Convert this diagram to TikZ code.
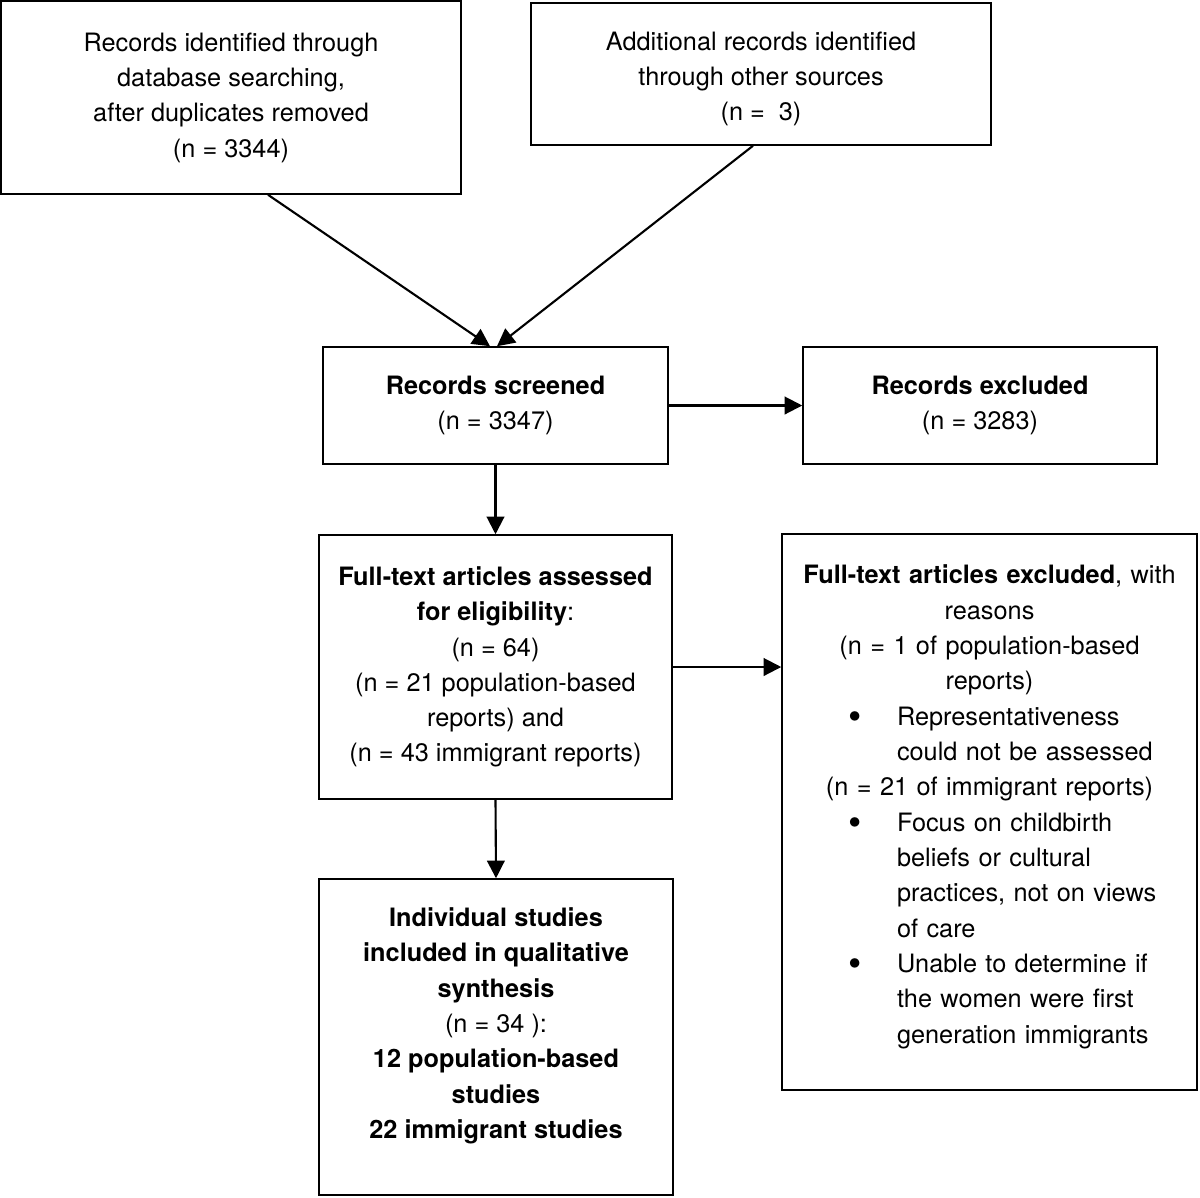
\documentclass[tikz,border=0pt]{standalone}
\usepackage{fontspec}
\setmainfont{TeX Gyre Heros}
\usetikzlibrary{arrows.meta}

\newcommand{\bigdot}{\raisebox{-2.5pt}{\scalebox{1.5}{\textbullet}}}
\newcommand{\bitem}[1]{\makebox[7.8cm][l]{\hspace*{1.08cm}\makebox[0.97cm][l]{\bigdot}#1}}
\newcommand{\bcont}[1]{\makebox[7.8cm][l]{\hspace*{2.05cm}#1}}

\begin{document}
\begin{tikzpicture}[x=0.02cm, y=-0.02cm,
  font=\fontsize{14.4}{20.1}\selectfont,
  box/.style={draw, line width=0.9pt, align=center, inner sep=0pt},
  flow/.style={-{Triangle[length=10pt,width=10pt]}, line width=1.2pt}]
  \useasboundingbox (0,0) rectangle (1200,1197);

  \node[box, minimum width=9.2cm, minimum height=3.86cm] (ident) at (231,97.5)
    {Records identified through\\ database searching,\\ after duplicates removed\\ (n = 3344)};
  \node[box, minimum width=9.2cm, minimum height=2.84cm] (other) at (761,74)
    {\rule{0pt}{16pt}Additional records identified\\ through other sources\\ (n =~~3)};
  \node[box, minimum width=6.9cm, minimum height=2.34cm] (screen) at (495.5,405.5)
    {\textbf{Records screened}\\ (n = 3347)};
  \node[box, minimum width=7.08cm, minimum height=2.34cm] (excl) at (980,405.5)
    {\textbf{Records excluded}\\ (n = 3283)};
  \node[box, minimum width=7.06cm, minimum height=5.28cm] (full) at (495.5,667)
    {\textbf{Full-text articles assessed}\\ \textbf{for eligibility}:\\ (n = 64)\\
     (n = 21 population-based\\ reports) and\\ (n = 43 immigrant reports)};
  \node[box, minimum width=8.3cm, minimum height=11.12cm, text width=7.8cm] (fexcl) at (989.5,812)
    {\textbf{Full-text articles excluded}, with\\ reasons\\
     (n = 1 of population-based\\ reports)\\
     \bitem{Representativeness}\\ \bcont{could not be assessed}\\
     (n = 21 of immigrant reports)\\
     \bitem{Focus on childbirth}\\ \bcont{beliefs or cultural}\\
     \bcont{practices, not on views}\\ \bcont{of care}\\
     \bitem{Unable to determine if}\\ \bcont{the women were first}\\
     \bcont{generation immigrants}\rule[-9pt]{0pt}{9pt}};
  \node[box, minimum width=7.08cm, minimum height=6.32cm] (incl) at (496,1037)
    {\textbf{Individual studies}\\ \textbf{included in qualitative}\\ \textbf{synthesis}\\
     (n = 34 ):\\ \textbf{12 population-based}\\ \textbf{studies}\\
     \textbf{22 immigrant studies}\rule[-16pt]{0pt}{16pt}};

  \draw[flow] ([xshift=0.74cm]ident.south) -- ([xshift=-0.11cm]screen.north);
  \draw[flow] ([xshift=-0.16cm]other.south) -- ([xshift=0.03cm]screen.north);
  \draw[flow] (screen.east) -- (excl.west);
  \draw[flow] (screen.south) -- (full.north);
  \draw[flow] (full.east) -- (full.east -| fexcl.west);
  \draw[flow] (full.south) -- (incl.north);
\end{tikzpicture}
\end{document}
